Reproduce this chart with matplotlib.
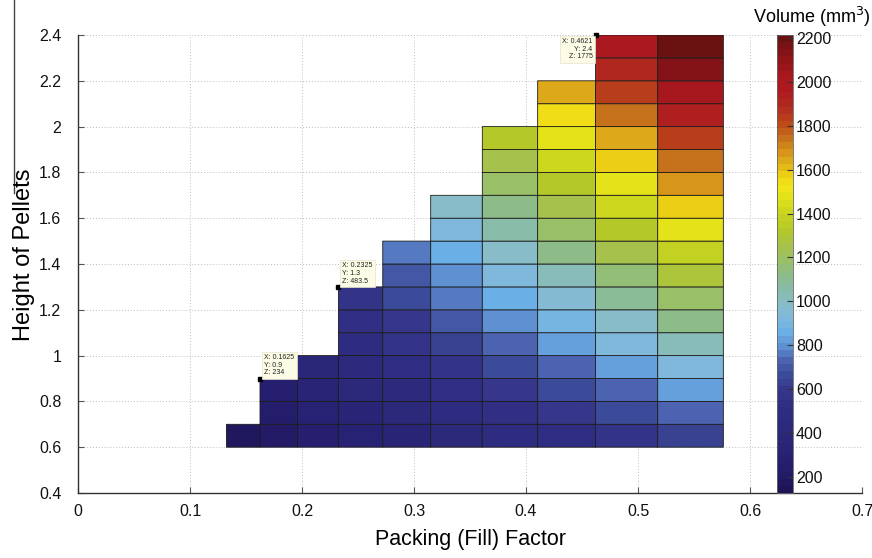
import numpy as np
import matplotlib
matplotlib.use("Agg")
import matplotlib.pyplot as plt
from matplotlib.colors import LinearSegmentedColormap, Normalize
from matplotlib.lines import Line2D

plt.rcParams['font.family'] = ['Liberation Sans', 'DejaVu Sans']

# ---------------- data ----------------
packing_edges = [0.1325, 0.1625, 0.1960, 0.2325, 0.2721, 0.3149,
                 0.3610, 0.4104, 0.4621, 0.5176, 0.5762]
height_edges = [0.6, 0.7, 0.8, 0.9, 1.0, 1.1, 1.2, 1.3, 1.4, 1.5,
                1.6, 1.7, 1.8, 1.9, 2.0, 2.1, 2.2, 2.3, 2.4]

# Volume (mm^3) of each cell, per packing-factor column, from the bottom row upward
vol_col_0 = [182]
vol_col_1 = [220, 251, 283]
vol_col_2 = [260, 298, 335, 372]
vol_col_3 = [305, 348, 392, 435, 479, 522, 566]
vol_col_4 = [352, 403, 453, 504, 554, 605, 655, 705, 756]
vol_col_5 = [404, 462, 520, 578, 636, 693, 751, 809, 867, 924, 982]
vol_col_6 = [460, 526, 592, 657, 723, 789, 855, 920, 986, 1052, 1117, 1183, 1249, 1315]
vol_col_7 = [518, 592, 665, 739, 813, 887, 961, 1035, 1109, 1183, 1257, 1331,
             1405, 1479, 1553, 1627]
vol_col_8 = [580, 663, 745, 828, 911, 994, 1077, 1159, 1242, 1325, 1408, 1491,
             1574, 1656, 1739, 1822, 1905, 1988]
vol_col_9 = [645, 738, 830, 922, 1014, 1106, 1198, 1291, 1383, 1475, 1567, 1659,
             1752, 1844, 1936, 2028, 2120, 2213]
volume_columns = [vol_col_0, vol_col_1, vol_col_2, vol_col_3, vol_col_4,
                  vol_col_5, vol_col_6, vol_col_7, vol_col_8, vol_col_9]

volume_min = 127.2
volume_max = 2213

# data tips
tip_x = [0.1625, 0.2325, 0.4621]
tip_y = [0.9, 1.3, 2.4]
tip_z = ["234", "483.5", "1775"]

x_ticks = [0, 0.1, 0.2, 0.3, 0.4, 0.5, 0.6, 0.7]
x_tick_labels = ["0", "0.1", "0.2", "0.3", "0.4", "0.5", "0.6", "0.7"]
y_ticks = [0.4, 0.6, 0.8, 1.0, 1.2, 1.4, 1.6, 1.8, 2.0, 2.2, 2.4]
y_tick_labels = ["0.4", "0.6", "0.8", "1", "1.2", "1.4", "1.6", "1.8", "2", "2.2", "2.4"]
cbar_ticks = [200, 400, 600, 800, 1000, 1200, 1400, 1600, 1800, 2000, 2200]
cbar_tick_labels = [str(t) for t in cbar_ticks]

# ---------------- colormap ----------------
cmap_anchors = [
    (127, "#1e1456"), (182, "#221a64"), (260, "#261f70"), (350, "#2a2677"),
    (459, "#2e2c80"), (524, "#302f84"), (590, "#36378a"), (655, "#3c4a98"),
    (721, "#4a62b0"), (786, "#5e8ed0"), (852, "#6aaee8"), (918, "#80b8dc"),
    (983, "#88bccc"), (1049, "#88bcaa"), (1114, "#8cbc8c"), (1183, "#98c068"),
    (1257, "#a8c24a"), (1321, "#b4c828"), (1404, "#c8d420"), (1470, "#e0e018"),
    (1520, "#efe61a"), (1570, "#f0d814"), (1627, "#e0b418"), (1680, "#d8981a"),
    (1734, "#c87a1c"), (1817, "#bd4a18"), (1900, "#b02a20"), (1982, "#b01820"),
    (2040, "#a8181e"), (2114, "#901418"), (2213, "#6a1212"),
]
pos = [(v - volume_min) / (volume_max - volume_min) for v, _ in cmap_anchors]
pos[0] = 0.0
pos[-1] = 1.0
cmap = LinearSegmentedColormap.from_list("vol", list(zip(pos, [c for _, c in cmap_anchors])), N=64)

# ---------------- grid of values ----------------
Z = np.full((len(height_edges) - 1, len(packing_edges) - 1), np.nan)
for j, col in enumerate(volume_columns):
    for i, v in enumerate(col):
        Z[i, j] = v
Zm = np.ma.masked_invalid(Z)

W, H = 872, 558
AX_L, AX_R, AX_T, AX_B = 78.0, 862.0, 35.0, 493.0
fig = plt.figure(figsize=(W / 100, H / 100), dpi=100)
ax = fig.add_axes([AX_L / W, 1 - AX_B / H, (AX_R - AX_L) / W, (AX_B - AX_T) / H])

norm = Normalize(vmin=volume_min, vmax=volume_max)
mesh = ax.pcolor(packing_edges, height_edges, Zm, cmap=cmap, norm=norm,
                 edgecolors="#1c1c1c", linewidth=0.6, zorder=2)

ax.set_xlim(0, 0.7)
ax.set_ylim(0.4, 2.4)
ax.set_xticks(x_ticks)
ax.set_xticklabels(x_tick_labels)
ax.set_yticks(y_ticks)
ax.set_yticklabels(y_tick_labels)
ax.set_axisbelow(True)
ax.grid(True, linestyle=(0, (1, 2)), color="#bdbdbd", linewidth=0.7)
for s in ["top", "right"]:
    ax.spines[s].set_visible(False)
for s in ["left", "bottom"]:
    ax.spines[s].set_color("#333333")
    ax.spines[s].set_linewidth(1.0)
ax.tick_params(axis="both", direction="in", length=4, width=0.8, color="#555555",
               labelsize=11.5, labelcolor="#111111")
ax.tick_params(axis="x", pad=8)
ax.tick_params(axis="y", pad=12)

# data tips
ax.plot(tip_x, tip_y, linestyle="none", marker="s", markersize=3.5,
        color="black", zorder=6, clip_on=False)
tip_offsets = [(4, 2, "left", "bottom"), (4, 2, "left", "bottom"), (-3, -3, "right", "top")]
for x, y, z, (dx, dy, ha, va) in zip(tip_x, tip_y, tip_z, tip_offsets):
    ax.annotate(f"X: {x}\nY: {y}\nZ: {z}", xy=(x, y), xytext=(dx, dy),
                textcoords="offset pixels", ha=ha, va=va, fontsize=5,
                linespacing=1.15, color="#222222", zorder=7,
                bbox=dict(boxstyle="square,pad=0.35", facecolor="#fbfbe6",
                          edgecolor="#e4e4cc", linewidth=0.5))

# colorbar (overlaid inside the axes area)
cax = fig.add_axes([777 / W, 1 - AX_B / H, 16 / W, (AX_B - AX_T) / H])
cb = fig.colorbar(mesh, cax=cax, ticks=cbar_ticks)
cb.ax.set_yticklabels(cbar_tick_labels)
cb.outline.set_edgecolor("#666666")
cb.outline.set_linewidth(0.6)
cb.ax.tick_params(direction="in", length=4, width=0.8, color="#333333",
                  labelsize=11.5, pad=2, labelcolor="#111111")
fig.text(812 / W, 1 - 17 / H, "Volume (mm$^3$)", ha="center", va="center", fontsize=13)

# axis labels
fig.text(470.0 / W, 1 - 540 / H, "Packing (Fill) Factor", ha="center", va="center",
         fontsize=15.5)
fig.text(24 / W, 1 - 255 / H, "Height of Pellets", ha="center", va="center",
         rotation=90, fontsize=17)
fig.add_artist(Line2D([14 / W, 14 / W], [1.0, 1 - 193 / H], transform=fig.transFigure,
                      color="#444444", linewidth=1.0))

fig.savefig("out.png", dpi=100)
